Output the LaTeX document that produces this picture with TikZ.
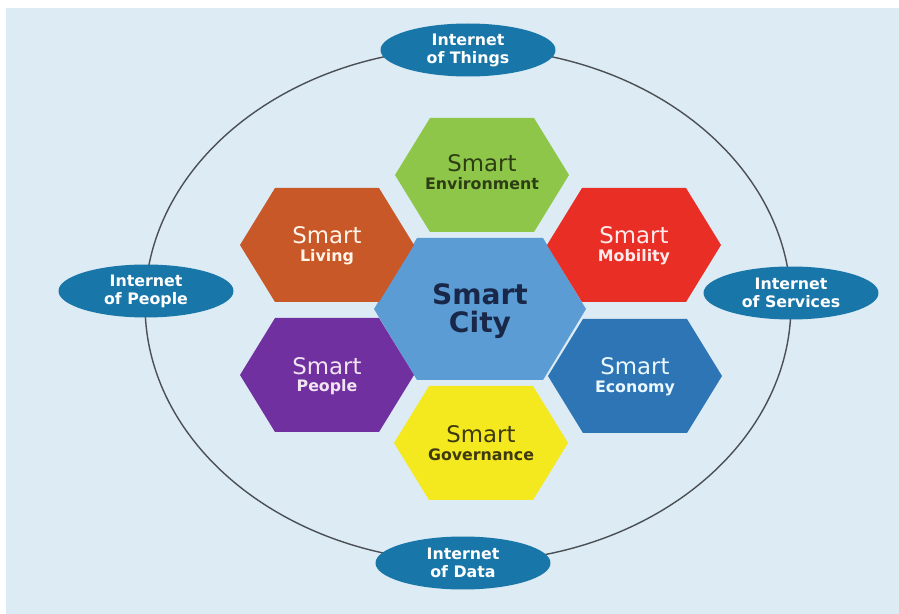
\documentclass[tikz,border=0pt]{standalone}
\usepackage{fontspec}
\setmainfont{DejaVu Sans}
\usetikzlibrary{shapes.geometric}

\definecolor{bgblue}{RGB}{220,235,244}
\definecolor{ringgray}{RGB}{75,80,85}
\definecolor{netblue}{RGB}{24,118,168}
\definecolor{envgreen}{RGB}{141,198,72}
\definecolor{livorange}{RGB}{200,88,40}
\definecolor{mobred}{RGB}{233,46,38}
\definecolor{cityblue}{RGB}{92,156,212}
\definecolor{pplpurple}{RGB}{112,48,160}
\definecolor{ecoblue}{RGB}{46,117,182}
\definecolor{govyellow}{RGB}{244,232,30}
\definecolor{envtext}{RGB}{45,62,20}
\definecolor{govtext}{RGB}{62,58,15}
\definecolor{citytext}{RGB}{25,40,72}

\begin{document}
\begin{tikzpicture}[x=0.02cm, y=-0.02cm,
  net/.style={ellipse, fill=netblue, text=white, minimum width=3.5cm,
    minimum height=1.06cm, inner sep=0pt, align=center,
    font=\fontsize{9}{10.2}\selectfont\bfseries},
  cell/.style={align=center, inner sep=0pt,
    font=\fontsize{9}{10}\selectfont\bfseries}]
\useasboundingbox (0,0) rectangle (899,614);
\fill[bgblue] (6,8) rectangle (899,614);

% ring
\coordinate (hub) at (468,305);
\draw[ringgray, line width=0.8pt] (hub) ellipse [x radius=6.46cm, y radius=5.14cm];

% centre hexagon
\fill[cityblue] (480,309) ++(-106,0) -- ++(43,-71) -- ++(126,0)
  -- ++(43,71) -- ++(-43,71) -- ++(-126,0) -- cycle;
\node[cell, text=citytext, font=\fontsize{16}{15.5}\selectfont\bfseries]
  (city) at (480,311) {Smart\\City};

% outer hexagons
\fill[envgreen] (482,175) ++(-87,0) -- ++(35,-57) -- ++(104,0)
  -- ++(35,57) -- ++(-35,57) -- ++(-104,0) -- cycle;
\node[cell, text=envtext] (env) at (482,172)
  {{\fontsize{13}{10}\selectfont\mdseries Smart}\\Environment};

\fill[livorange] (327,245) ++(-87,0) -- ++(35,-57) -- ++(104,0)
  -- ++(35,57) -- ++(-35,57) -- ++(-104,0) -- cycle;
\node[cell, text=white!92!orange] (living) at (327,246)
  {{\fontsize{13}{10}\selectfont\mdseries Smart}\\Living};

\fill[mobred] (634,245) ++(-87,0) -- ++(35,-57) -- ++(104,0)
  -- ++(35,57) -- ++(-35,57) -- ++(-104,0) -- cycle;
\node[cell, text=white!92!red] (mobility) at (634,246)
  {{\fontsize{13}{10}\selectfont\mdseries Smart}\\Mobility};

\fill[pplpurple] (327,375) ++(-87,0) -- ++(35,-57) -- ++(104,0)
  -- ++(35,57) -- ++(-35,57) -- ++(-104,0) -- cycle;
\node[cell, text=white!90!violet] (people) at (327,376)
  {{\fontsize{13}{10}\selectfont\mdseries Smart}\\People};

\fill[ecoblue] (635,376) ++(-87,0) -- ++(35,-57) -- ++(104,0)
  -- ++(35,57) -- ++(-35,57) -- ++(-104,0) -- cycle;
\node[cell, text=white!92!cyan] (economy) at (635,377)
  {{\fontsize{13}{10}\selectfont\mdseries Smart}\\Economy};

\fill[govyellow] (481,443) ++(-87,0) -- ++(35,-57) -- ++(104,0)
  -- ++(35,57) -- ++(-35,57) -- ++(-104,0) -- cycle;
\node[cell, text=govtext] (gov) at (481,443)
  {{\fontsize{13}{10}\selectfont\mdseries Smart}\\Governance};

% internets on the ring
\node[net] (iot) at (468,50) {Internet\\of Things};
\node[net] (iop) at (146,291) {Internet\\of People};
\node[net] (ios) at (791,293) {Internet\\of Services};
\node[net] (iod) at (463,563) {Internet\\of Data};
\end{tikzpicture}
\end{document}
